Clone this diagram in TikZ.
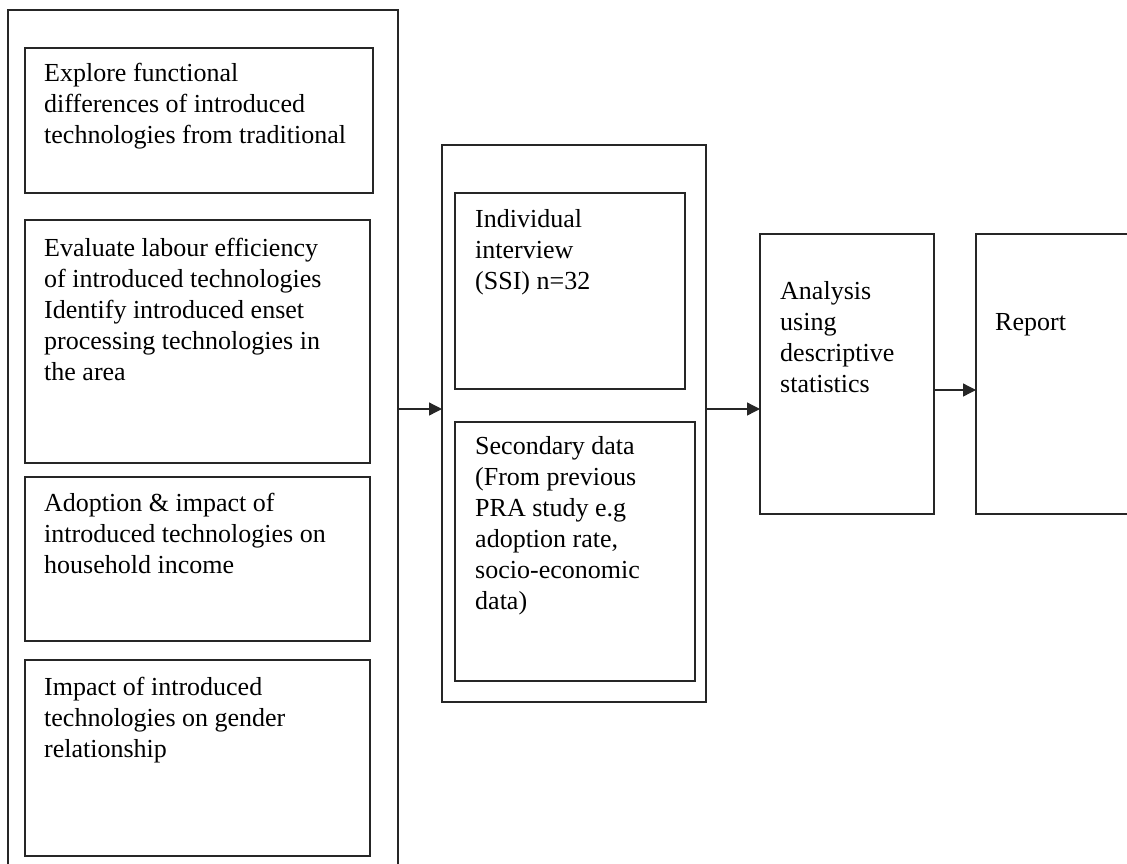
\documentclass[tikz,border=0pt]{standalone}
\usepackage{fontspec}
\setmainfont{Liberation Serif}
\usetikzlibrary{arrows.meta}
\begin{document}
\begin{tikzpicture}[x=1pt,y=-1pt,
  box/.style={draw=black!85,line width=1.3pt,rectangle,inner sep=0pt,outer sep=0pt,anchor=north west},
  txt/.style={anchor=base west,align=left,inner sep=0pt,font=\fontsize{26}{31}\selectfont},
  arr/.style={draw=black!85,line width=1.3pt,-{Triangle[length=13pt,width=13pt]}}]
\useasboundingbox (0,0) rectangle (1127,863);
\clip (0,0) rectangle (1127,863);
% outer boxes
\node[box,minimum width=390pt,minimum height=880pt] (left) at (8,10) {};
\node[box,minimum width=264pt,minimum height=557pt] (mid) at (442,145) {};
% left inner boxes
\node[box,minimum width=348pt,minimum height=145pt] (b1) at (25,48) {};
\node[box,minimum width=345pt,minimum height=243pt] (b2) at (25,220) {};
\node[box,minimum width=345pt,minimum height=164pt] (b3) at (25,477) {};
\node[box,minimum width=345pt,minimum height=196pt] (b4) at (25,660) {};
% middle inner boxes
\node[box,minimum width=230pt,minimum height=196pt] (m1) at (455,193) {};
\node[box,minimum width=240pt,minimum height=259pt] (m2) at (455,422) {};
% right boxes
\node[box,minimum width=174pt,minimum height=280pt] (an) at (760,234) {};
\node[box,minimum width=170pt,minimum height=280pt] (rep) at (976,234) {};
% texts (base = last line)
\node[txt] (t1) at (44,143) {Explore functional\\differences of introduced\\technologies from traditional};
\node[txt] (t2) at (44,380) {Evaluate labour efficiency\\of introduced technologies\\Identify introduced enset\\processing technologies in\\the area};
\node[txt] (t3) at (44,573) {Adoption \& impact of\\introduced technologies on\\household income};
\node[txt] (t4) at (44,757) {Impact of introduced\\technologies on gender\\relationship};
\node[txt] (tm1) at (475,289) {Individual\\interview\\(SSI) n=32};
\node[txt] (tm2) at (475,609) {Secondary data\\(From previous\\PRA study e.g\\adoption rate,\\socio-economic\\data)};
\node[txt] (tan) at (780,392) {Analysis\\using\\descriptive\\statistics};
\node[txt] (trep) at (995,330) {Report};
% connectors
\coordinate (y1) at (0,409);
\coordinate (y2) at (0,390);
\draw[arr] (left.east |- y1) -- (mid.west |- y1);
\draw[arr] (mid.east |- y1) -- (an.west |- y1);
\draw[arr] (an.east |- y2) -- (rep.west |- y2);
\end{tikzpicture}
\end{document}
